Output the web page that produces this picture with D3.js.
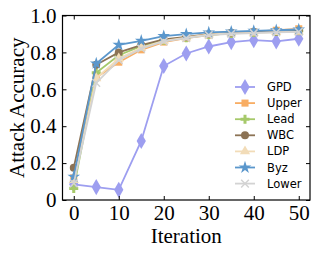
<!DOCTYPE html>
<html>
<head>
<meta charset="utf-8">
<script src="https://cdn.jsdelivr.net/npm/d3@7"></script>
<style>
  body { margin: 0; background: #fff; }
  svg { display: block; }
</style>
</head>
<body>
<script>
var width = 319, height = 255;

var iterations = [0, 5, 10, 15, 20, 25, 30, 35, 40, 45, 50];
var seriesNames = ["GPD", "Upper", "Lead", "WBC", "LDP", "Byz", "Lower"];
var gpd   = [0.085, 0.070, 0.055, 0.320, 0.726, 0.794, 0.832, 0.856, 0.866, 0.860, 0.874];
var upper = [0.120, 0.664, 0.747, 0.814, 0.856, 0.877, 0.894, 0.904, 0.911, 0.920, 0.928];
var lead  = [0.063, 0.690, 0.785, 0.834, 0.866, 0.880, 0.895, 0.903, 0.908, 0.913, 0.917];
var wbc   = [0.175, 0.733, 0.800, 0.840, 0.870, 0.884, 0.899, 0.906, 0.910, 0.913, 0.917];
var ldp   = [0.108, 0.660, 0.767, 0.825, 0.863, 0.880, 0.897, 0.903, 0.906, 0.910, 0.911];
var byz   = [0.126, 0.740, 0.841, 0.863, 0.888, 0.899, 0.908, 0.913, 0.917, 0.920, 0.924];
var lower = [0.090, 0.635, 0.758, 0.820, 0.860, 0.877, 0.894, 0.901, 0.904, 0.908, 0.911];
var yTicks = [0, 0.2, 0.4, 0.6, 0.8, 1.0];
var xTicks = [0, 10, 20, 30, 40, 50];

var series = [
  { name: "GPD",   values: gpd,   color: "#9d9ef0", shape: d3.symbolDiamond, size: 75, stroke: false },
  { name: "Upper", values: upper, color: "#f8ad63", shape: d3.symbolSquare,  size: 50, stroke: false },
  { name: "Lead",  values: lead,  color: "#a6c96a", shape: d3.symbolCross,   size: 45, stroke: false },
  { name: "WBC",   values: wbc,   color: "#8c7355", shape: d3.symbolCircle,  size: 50, stroke: false },
  { name: "LDP",   values: ldp,   color: "#f2dcb8", shape: d3.symbolTriangle, size: 45, stroke: false },
  { name: "Byz",   values: byz,   color: "#5b97cc", shape: d3.symbolStar,    size: 50, stroke: false },
  { name: "Lower", values: lower, color: "#d3d3d3", shape: d3.symbolX,       size: 40, stroke: true }
];

var margin = { left: 62.5, right: 9, top: 15.5, bottom: 55 };

var svg = d3.select("body").append("svg")
    .attr("width", width)
    .attr("height", height);

var x = d3.scaleLinear().domain([-2.5, 52.5]).range([margin.left, width - margin.right]);
var y = d3.scaleLinear().domain([0, 1]).range([height - margin.bottom, margin.top]);

var serif = "'Liberation Serif', 'Times New Roman', serif";

// lines and markers
var line = d3.line()
    .x(function (d, i) { return x(iterations[i]); })
    .y(function (d) { return y(d); });

series.forEach(function (s) {
    var g = svg.append("g");
    g.append("path")
        .attr("d", line(s.values))
        .attr("fill", "none")
        .attr("stroke", s.color)
        .attr("stroke-width", 1.8);
    g.selectAll("path.m")
        .data(s.values)
        .enter().append("path")
        .attr("class", "m")
        .attr("transform", function (d, i) { return "translate(" + x(iterations[i]) + "," + y(d) + ")"; })
        .attr("d", d3.symbol().type(s.shape).size(s.size))
        .attr("fill", s.stroke ? "none" : s.color)
        .attr("stroke", s.stroke ? s.color : "none")
        .attr("stroke-width", 1.5);
});

// axes with inward ticks on all sides
var xAxis = d3.axisBottom(x).tickValues(xTicks).tickSizeInner(-4).tickSizeOuter(0).tickPadding(5);
var yAxis = d3.axisLeft(y).tickValues(yTicks).tickSizeInner(-4).tickSizeOuter(0).tickPadding(6)
    .tickFormat(function (d) { return d === 0 ? "0" : d.toFixed(1); });

var gx = svg.append("g")
    .attr("transform", "translate(0," + (height - margin.bottom) + ")")
    .call(xAxis);
var gy = svg.append("g")
    .attr("transform", "translate(" + margin.left + ",0)")
    .call(yAxis);
svg.append("g")
    .attr("transform", "translate(0," + margin.top + ")")
    .call(d3.axisTop(x).tickValues(xTicks).tickSizeInner(-4).tickSizeOuter(0).tickFormat(""));
svg.append("g")
    .attr("transform", "translate(" + (width - margin.right) + ",0)")
    .call(d3.axisRight(y).tickValues(yTicks).tickSizeInner(-4).tickSizeOuter(0).tickFormat(""));

svg.selectAll(".domain").remove();
svg.selectAll(".tick line").attr("stroke", "#000").attr("stroke-width", 1);
[gx, gy].forEach(function (g) {
    g.selectAll("text")
        .attr("fill", "#000")
        .style("font-family", serif)
        .style("font-size", "21px");
});

svg.append("rect")
    .attr("x", margin.left)
    .attr("y", margin.top)
    .attr("width", width - margin.right - margin.left)
    .attr("height", height - margin.bottom - margin.top)
    .attr("fill", "none")
    .attr("stroke", "#000")
    .attr("stroke-width", 1.2);

// axis titles
svg.append("text")
    .attr("x", (margin.left + width - margin.right) / 2)
    .attr("y", 243)
    .attr("text-anchor", "middle")
    .style("font-family", serif)
    .style("font-size", "21px")
    .text("Iteration");

svg.append("text")
    .attr("transform", "translate(24," + ((margin.top + height - margin.bottom) / 2) + ") rotate(-90)")
    .attr("text-anchor", "middle")
    .style("font-family", serif)
    .style("font-size", "21px")
    .text("Attack Accuracy");

// legend
var legend = svg.append("g").attr("transform", "translate(235,87)");
var row = legend.selectAll("g")
    .data(series)
    .enter().append("g")
    .attr("transform", function (d, i) { return "translate(0," + (i * 16.1) + ")"; });
row.append("line")
    .attr("x1", 0).attr("x2", 20)
    .attr("stroke", function (d) { return d.color; })
    .attr("stroke-width", 1.8);
row.append("path")
    .attr("transform", "translate(10,0)")
    .attr("d", function (d) { return d3.symbol().type(d.shape).size(d.size)(); })
    .attr("fill", function (d) { return d.stroke ? "none" : d.color; })
    .attr("stroke", function (d) { return d.stroke ? d.color : "none"; })
    .attr("stroke-width", 1.5);
row.append("text")
    .attr("x", 32)
    .attr("dy", "0.35em")
    .style("font-family", "'DejaVu Sans', sans-serif")
    .style("font-size", "11.5px")
    .text(function (d) { return d.name; });
</script>
</body>
</html>
